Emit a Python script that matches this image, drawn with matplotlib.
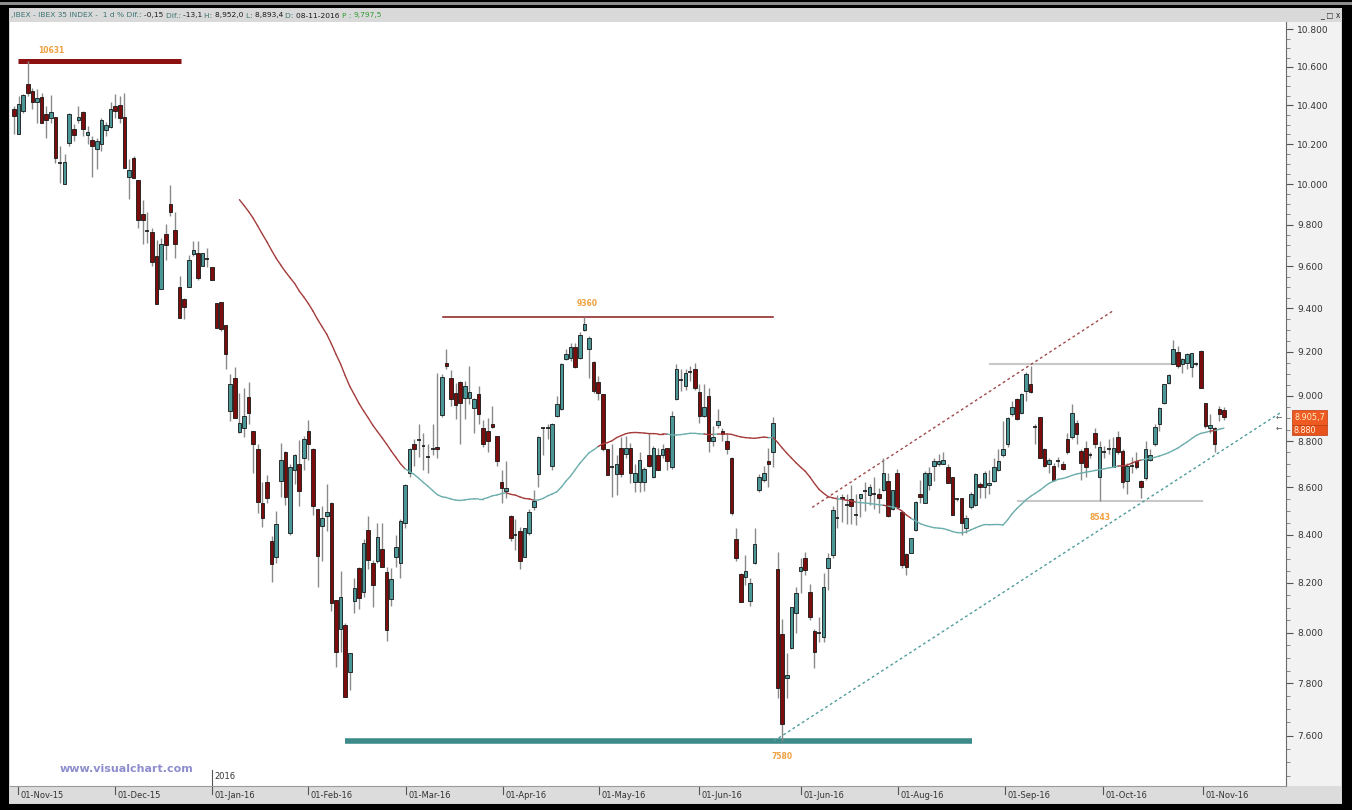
import numpy as np
import pandas as pd
import matplotlib
matplotlib.use("Agg")
import matplotlib.pyplot as plt
from matplotlib.patches import Rectangle
from matplotlib.ticker import FixedLocator, NullFormatter, FuncFormatter
from matplotlib.transforms import blended_transform_factory

plt.rcParams['font.family'] = ['DejaVu Sans']

# ---------------- data (IBEX 35 daily candles) ----------------
opens = [
    10380, 10250, 10369, 10509, 10472, 10415, 10441, 10354, 10333, 10338,
    10105, 10000, 10205, 10276, 10323, 10364, 10246, 10220, 10175, 10200,
    10271, 10287, 10394, 10400, 10338, 10035, 10130, 10020, 9852, 9769,
    9764, 9649, 9492, 9755, 9901, 9774, 9501, 9445, 9501, 9659,
    9663, 9601, 9635, 9596, 9426, 9431, 9324, 8934, 9082, 8838,
    8859, 8996, 8846, 8767, 8531, 8621, 8371, 8305, 8625, 8750,
    8405, 8672, 8698, 8724, 8842, 8763, 8509, 8434, 8476, 8531,
    8130, 8014, 8029, 7844, 8126, 8260, 8162, 8417, 8281, 8289,
    8338, 8244, 8134, 8305, 8281, 8447, 8659, 8785, 8806, 8780,
    8732, 8767, 8776, 8916, 9149, 9082, 9015, 9064, 8992, 8992,
    8947, 9010, 8855, 8842, 8876, 8824, 8621, 8582, 8476, 8396,
    8413, 8305, 8405, 8514, 8655, 8855, 8855, 8693, 8912, 8943,
    9168, 9172, 9222, 9172, 9301, 9213, 9154, 9064, 9010, 8767,
    8685, 8655, 8771, 8745, 8771, 8621, 8621, 8621, 8737, 8642,
    8737, 8737, 8771, 8685, 8987, 9073, 9042, 9109, 9122, 9019,
    8912, 9001, 8798, 8872, 8842, 8802, 8728, 8380, 8235, 8223,
    8126, 8281, 8586, 8633, 8711, 8754, 8256, 7994, 7821, 7938,
    8078, 8248, 8301, 8162, 8006, 7998, 7982, 8260, 8313, 8468,
    8560, 8526, 8548, 8484, 8552, 8582, 8565, 8569, 8569, 8586,
    8625, 8509, 8659, 8493, 8318, 8322, 8417, 8569, 8531, 8608,
    8693, 8698, 8702, 8685, 8642, 8548, 8552, 8426, 8514, 8526,
    8612, 8599, 8608, 8625, 8672, 8737, 8785, 8921, 8987, 8925,
    9024, 9055, 8863, 8907, 8767, 8698, 8693, 8715, 8698, 8811,
    8816, 8881, 8758, 8771, 8737, 8833, 8646, 8750, 8767, 8685,
    8816, 8758, 8625, 8693, 8711, 8625, 8638, 8719, 8785, 8876,
    8969, 9060, 9145, 9200, 9145, 9149, 9131, 9145, 9204, 8969,
    8855, 8859, 8943, 8935,
]
highs = [
    10395, 10446, 10457, 10631, 10488, 10483, 10462, 10394, 10451, 10338,
    10190, 10150, 10359, 10302, 10394, 10369, 10292, 10240, 10230, 10333,
    10312, 10415, 10457, 10446, 10462, 10125, 10140, 10020, 9921, 9862,
    9784, 9726, 9735, 9803, 9995, 9862, 9553, 9450, 9654, 9721,
    9721, 9663, 9687, 9596, 9426, 9431, 9324, 9100, 9131, 9015,
    9037, 9064, 8846, 8789, 8621, 8651, 8392, 8497, 8793, 8758,
    8702, 8745, 8806, 8820, 8894, 8771, 8509, 8518, 8612, 8535,
    8130, 8248, 8037, 7918, 8219, 8264, 8380, 8476, 8293, 8447,
    8447, 8264, 8260, 8396, 8463, 8612, 8771, 8811, 8876, 8837,
    8789, 8876, 9104, 9100, 9213, 9118, 9060, 9068, 9068, 9136,
    8992, 9042, 8894, 8903, 8956, 8824, 8672, 8711, 8484, 8463,
    8430, 8426, 8509, 8586, 8820, 8863, 8876, 8881, 9001, 9149,
    9213, 9240, 9240, 9291, 9360, 9273, 9158, 9091, 9010, 8767,
    8789, 8737, 8816, 8824, 8793, 8702, 8750, 8689, 8833, 8780,
    8771, 8785, 8771, 8934, 9145, 9122, 9122, 9136, 9149, 9055,
    9055, 9033, 8868, 8943, 8859, 8829, 8732, 8426, 8239, 8313,
    8219, 8426, 8655, 8693, 8771, 8907, 8326, 8053, 7918, 8102,
    8182, 8301, 8326, 8194, 8014, 8061, 8239, 8322, 8522, 8565,
    8573, 8573, 8608, 8573, 8573, 8621, 8612, 8642, 8595, 8724,
    8659, 8590, 8680, 8497, 8322, 8384, 8543, 8629, 8668, 8685,
    8724, 8745, 8750, 8702, 8646, 8552, 8552, 8480, 8578, 8663,
    8621, 8668, 8672, 8728, 8767, 8890, 8907, 8978, 8992, 9015,
    9109, 9136, 8876, 8907, 8771, 8724, 8706, 8732, 8715, 8833,
    8965, 8894, 8767, 8802, 8750, 8859, 8802, 8780, 8811, 8816,
    8846, 8763, 8706, 8732, 8754, 8633, 8802, 8763, 8876, 8952,
    9055, 9100, 9254, 9227, 9172, 9195, 9195, 9154, 9209, 8969,
    8921, 8863, 8956, 8952,
]
lows = [
    10250, 10250, 10359, 10446, 10379, 10307, 10307, 10230, 10307, 10105,
    10005, 10000, 10190, 10215, 10307, 10240, 10200, 10035, 10075, 10165,
    10240, 10281, 10333, 10307, 10080, 9926, 10030, 9784, 9706, 9711,
    9601, 9421, 9492, 9630, 9842, 9639, 9356, 9351, 9501, 9649,
    9534, 9601, 9596, 9534, 9310, 9296, 9122, 8890, 8903, 8833,
    8816, 8876, 8659, 8489, 8430, 8531, 8203, 8281, 8560, 8526,
    8400, 8612, 8518, 8672, 8719, 8480, 8182, 8289, 8413, 8086,
    7864, 7922, 7746, 7775, 8078, 8094, 8142, 8256, 8102, 8281,
    8264, 7966, 8106, 8264, 8219, 8426, 8642, 8693, 8732, 8672,
    8659, 8737, 8728, 8907, 9122, 8956, 8898, 8785, 8898, 8965,
    8837, 8876, 8776, 8750, 8855, 8693, 8531, 8552, 8375, 8334,
    8256, 8305, 8400, 8501, 8599, 8741, 8811, 8676, 8907, 8938,
    9163, 9158, 9127, 9168, 9296, 9082, 9015, 8983, 8758, 8651,
    8560, 8565, 8642, 8728, 8616, 8578, 8578, 8582, 8689, 8638,
    8672, 8728, 8672, 8680, 8983, 9024, 9028, 9068, 9028, 8881,
    8907, 8754, 8780, 8859, 8798, 8745, 8484, 8289, 8122, 8190,
    8106, 8277, 8578, 8621, 8603, 8685, 7744, 7580, 7744, 7934,
    7998, 8158, 8231, 8049, 7860, 7962, 7962, 8170, 8301, 8426,
    8451, 8442, 8442, 8438, 8472, 8497, 8526, 8509, 8489, 8582,
    8472, 8505, 8509, 8260, 8231, 8322, 8413, 8531, 8531, 8590,
    8625, 8693, 8702, 8616, 8480, 8543, 8396, 8405, 8509, 8522,
    8556, 8556, 8569, 8621, 8668, 8732, 8776, 8912, 8894, 8921,
    8978, 9015, 8789, 8724, 8685, 8663, 8625, 8685, 8676, 8745,
    8811, 8789, 8629, 8642, 8724, 8771, 8543, 8728, 8745, 8685,
    8745, 8595, 8569, 8659, 8680, 8552, 8633, 8715, 8780, 8842,
    8965, 9055, 9145, 9127, 9104, 9122, 9086, 9136, 9033, 8859,
    8837, 8754, 8890, 8893,
]
closes = [
    10345, 10405, 10451, 10462, 10415, 10436, 10307, 10323, 10364, 10130,
    10105, 10110, 10354, 10246, 10338, 10276, 10261, 10190, 10215, 10323,
    10297, 10379, 10369, 10333, 10080, 10070, 10030, 9823, 9823, 9769,
    9620, 9421, 9706, 9702, 9862, 9706, 9356, 9407, 9630, 9678,
    9544, 9663, 9635, 9534, 9310, 9305, 9190, 9055, 8903, 8881,
    8912, 8925, 8785, 8535, 8468, 8552, 8277, 8442, 8719, 8560,
    8689, 8741, 8582, 8811, 8785, 8522, 8309, 8468, 8493, 8118,
    7922, 8142, 7748, 7918, 8178, 8138, 8363, 8293, 8190, 8388,
    8264, 8010, 8215, 8346, 8455, 8608, 8763, 8763, 8806, 8780,
    8732, 8767, 8763, 9086, 9136, 8987, 8961, 8969, 9042, 9019,
    8987, 8921, 8785, 8802, 8863, 8715, 8595, 8595, 8384, 8396,
    8289, 8426, 8493, 8543, 8816, 8855, 8855, 8876, 8965, 9145,
    9190, 9222, 9131, 9277, 9329, 9264, 9024, 9015, 8763, 8651,
    8685, 8698, 8655, 8771, 8659, 8659, 8719, 8680, 8693, 8771,
    8672, 8767, 8711, 8912, 9122, 9073, 9104, 9109, 9033, 8912,
    8952, 8798, 8816, 8890, 8829, 8767, 8489, 8301, 8122, 8248,
    8198, 8359, 8646, 8663, 8698, 8881, 7783, 7645, 7833, 8102,
    8158, 8264, 8252, 8061, 7922, 7998, 8182, 8301, 8505, 8468,
    8548, 8526, 8518, 8484, 8573, 8582, 8599, 8569, 8556, 8659,
    8476, 8586, 8514, 8273, 8264, 8384, 8535, 8560, 8663, 8659,
    8715, 8715, 8719, 8616, 8484, 8548, 8447, 8468, 8573, 8655,
    8599, 8659, 8616, 8685, 8715, 8763, 8903, 8952, 8898, 9010,
    9100, 9019, 8863, 8724, 8693, 8719, 8629, 8715, 8680, 8754,
    8925, 8829, 8706, 8685, 8737, 8789, 8776, 8750, 8767, 8771,
    8750, 8621, 8693, 8693, 8685, 8603, 8767, 8741, 8863, 8947,
    9055, 9095, 9213, 9136, 9168, 9190, 9195, 9145, 9037, 8868,
    8872, 8789, 8919, 8906,
]

date_labels = ["01-Nov-15", "01-Dec-15", "01-Jan-16", "01-Feb-16", "01-Mar-16",
               "01-Apr-16", "01-May-16", "01-Jun-16", "01-Jun-16", "01-Aug-16",
               "01-Sep-16", "01-Oct-16", "01-Nov-16"]
date_ticks = [0.87, 21.96, 43.04, 63.9, 85.2, 106.3, 127.2, 148.9, 171.1,
              192.2, 215.4, 236.7, 258.5]

# annotations: (x_start, x_end, level)
max_line = (0.9, 36.3, 10631)
res_line = (93.3, 165.0, 9360)
min_line = (72.0, 208.3, 7580)
sep_line = (212.2, 253.5, 9145)
sup_line = (218.3, 258.3, 8543)
# channel lines: ((x0, x1), (y0, y1))
chan_top = ((173.5, 238.9), (8514, 9389))
chan_bot = ((165.2, 275.3), (7580, 8925))

last_price = "8.905,7"
second_price = "8.880"
ma_period = 50

# ---------------- figure ----------------
W, H = 1352, 810
fig = plt.figure(figsize=(W / 100, H / 100), dpi=100, facecolor='black')

bg = fig.add_axes([0, 0, 1, 1], zorder=0)
bg.set_xlim(0, W); bg.set_ylim(H, 0); bg.axis('off')


def rect(a, x0, y0, x1, y1, **kw):
    a.add_patch(Rectangle((x0, y0), x1 - x0, y1 - y0, **kw))


rect(bg, 0, 2, W, 4.5, color='#8c8c8c', lw=0)
rect(bg, 9, 8, 1342, 804, color='#d4d4d4', lw=0)
rect(bg, 10, 9, 1341, 22, color='#d9d9d9', lw=0)
rect(bg, 1286, 22, 1341, 786, color='#f2f2f2', lw=0)
rect(bg, 10, 786, 1341, 803, color='#dcdcdc', lw=0)


def px_box(x0, y0, x1, y1):
    return [x0 / W, 1 - y1 / H, (x1 - x0) / W, (y1 - y0) / H]


ax = fig.add_axes(px_box(10, 22, 1286, 786), zorder=2)
ax.set_facecolor('white')
ax.set_yscale('log')
ax.set_ylim(7412, 10840)
ax.set_xlim(-0.87, 276.5)

o = np.array(opens, float); h = np.array(highs, float)
l = np.array(lows, float); c = np.array(closes, float)
x = np.arange(len(c))

UP = '#4b9696'
DN = '#7d0c0c'

# reference lines
ax.plot(max_line[:2], [max_line[2]] * 2, color='#8c1212', lw=3.6, solid_capstyle='butt', zorder=1)
ax.plot(res_line[:2], [res_line[2]] * 2, color='#8c1a1a', lw=1.1, zorder=1)
ax.plot(min_line[:2], [min_line[2]] * 2, color='#3d8a8a', lw=4.0, solid_capstyle='butt', zorder=1)
ax.plot(sep_line[:2], [sep_line[2]] * 2, color='#c8c8c8', lw=1.5, zorder=1)
ax.plot(sup_line[:2], [sup_line[2]] * 2, color='#c8c8c8', lw=1.5, zorder=1)
ax.plot(chan_top[0], chan_top[1], color='#a04a4a', lw=1.0, ls=(0, (2, 2)), zorder=1)
ax.plot(chan_bot[0], chan_bot[1], color='#4f9c9c', lw=1.0, ls=(0, (2, 2)), zorder=1)

lab_kw = dict(color='#f0a040', fontsize=5.5, fontweight='bold', ha='center', va='center', zorder=5)
ax.text(8.0, 10690, f"{max_line[2]}", **lab_kw)
ax.text(124.5, 9425, f"{res_line[2]}", **lab_kw)
ax.text(167.0, 7522, f"{min_line[2]}", **lab_kw)
ax.text(236.0, 8470, f"{sup_line[2]}", **lab_kw)

# candles
ax.vlines(x, l, h, color='#8a8a8a', lw=1.0, zorder=2)
body_lo = np.minimum(o, c)
body_hi = np.maximum(o, c)
doji = body_hi - body_lo < 1
cols = np.where(c >= o, UP, DN)
nd = ~doji
ax.bar(x[nd], (body_hi - body_lo)[nd], bottom=body_lo[nd], width=0.78,
       color=cols[nd], edgecolor='#151515', lw=0.6, zorder=3)
ax.hlines(c[doji], x[doji] - 0.42, x[doji] + 0.42, color='#151515', lw=1.2, zorder=3)

# 50-day moving average coloured by price position
ma = pd.Series(c).rolling(ma_period).mean().to_numpy()
for i in range(ma_period - 1, len(c) - 1):
    col = '#6cadad' if c[i + 1] >= ma[i + 1] else '#a53c3c'
    ax.plot(x[i:i + 2], ma[i:i + 2], color=col, lw=1.0, zorder=4, solid_capstyle='round')

# axes styling
for s in ['top', 'left']:
    ax.spines[s].set_visible(False)
ax.spines['right'].set_color('#6a6a6a')
ax.spines['bottom'].set_color('#9a9a9a')
ax.yaxis.tick_right()
ax.yaxis.set_major_locator(FixedLocator(list(range(7400, 11000, 200))))
ax.yaxis.set_minor_locator(FixedLocator(list(range(7400, 10850, 50))))
ax.yaxis.set_major_formatter(FuncFormatter(lambda v, p: f"{int(round(v)):,}".replace(",", ".")))
ax.yaxis.set_minor_formatter(NullFormatter())
ax.tick_params(axis='y', which='major', length=5, width=0.8, color='#555555',
               labelsize=6.5, labelcolor='#333333', pad=3)
ax.tick_params(axis='y', which='minor', length=3, width=0.6, color='#777777')
ax.set_xticks([])

trans = blended_transform_factory(ax.transData, ax.transAxes)
for t, lab in zip(date_ticks, date_labels):
    ax.plot([t, t], [0, -0.011], transform=trans, clip_on=False, color='#555555', lw=0.8)
    ax.text(t + 0.5, -0.0125, lab, transform=trans, ha='left', va='center',
            fontsize=6, color='#333333', clip_on=False)
# year marker
ax.plot([date_ticks[2], date_ticks[2]], [0, 0.021], transform=trans, color='#555555', lw=0.8, zorder=5)
ax.text(date_ticks[2] + 0.45, 0.013, "2016", transform=trans, ha='left', va='center',
        fontsize=6, color='#333333', zorder=5)

# ---------------- overlays ----------------
ov = fig.add_axes([0, 0, 1, 1], zorder=10)
ov.set_xlim(0, W); ov.set_ylim(H, 0); ov.axis('off'); ov.patch.set_alpha(0)

title_parts = [(",IBEX - IBEX 35 INDEX -  1 d % Dif.: ", '#3e7474'), ("-0,15 ", '#1a1a1a'),
               ("Dif.: ", '#3e7474'), ("-13,1 ", '#1a1a1a'), ("H: ", '#3e7474'),
               ("8,952,0 ", '#1a1a1a'), ("L: ", '#3e7474'), ("8,893,4 ", '#1a1a1a'),
               ("D: ", '#3e7474'), ("08-11-2016 ", '#1a1a1a'), ("P : ", '#2f9a2f'),
               ("9,797,5", '#2f9a2f')]
renderer = fig.canvas.get_renderer()
xpos = 11
for txt, colr in title_parts:
    tt = ov.text(xpos, 15.5, txt, fontsize=5.4, color=colr, ha='left', va='center')
    bb = tt.get_window_extent(renderer=renderer)
    xpos += bb.width

ov.text(1330, 14.5, "_ \u25a1 x", fontsize=5.5, color='#303030', ha='center', va='center')

ov.text(60, 769, "www.visualchart.com", fontsize=8, fontweight='bold', color='#8e8ecf',
        ha='left', va='center')

# price boxes
rect(ov, 1292, 424.5, 1327, 435, facecolor='#e8521c', edgecolor='#b83c10', lw=0.5)
ov.text(1294, 430.5, second_price, fontsize=5.8, color='#fff4dc', ha='left', va='center')
rect(ov, 1292, 410, 1327, 425, facecolor='#ee5a22', edgecolor='#b83c10', lw=0.5)
ov.text(1309.5, 417.5, last_price, fontsize=5.9, color='#fff0c8', ha='center', va='center')
ov.text(1279, 417, "\u2190", fontsize=5.5, color='#555555', ha='center', va='center')
ov.text(1279, 428, "\u2190", fontsize=5.5, color='#555555', ha='center', va='center')

fig.savefig("out.png", dpi=100, facecolor=fig.get_facecolor())
